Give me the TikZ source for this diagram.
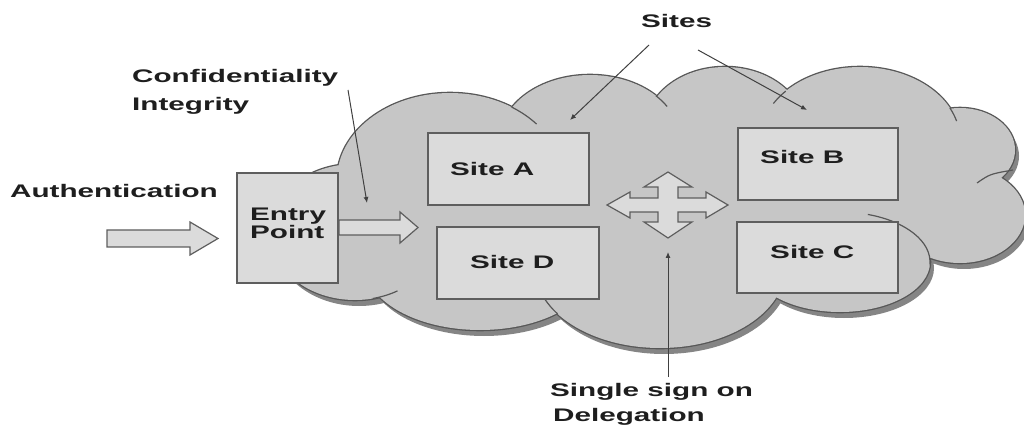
\documentclass[tikz,border=0pt]{standalone}
\usepackage{fontspec}
\newfontfamily\lblfont{Liberation Sans}[FakeStretch=1.63]
\usetikzlibrary{arrows.meta}

\definecolor{cloudfill}{HTML}{C6C6C6}
\definecolor{cloudline}{HTML}{575757}
\definecolor{cloudshade}{HTML}{858585}
\definecolor{boxfill}{HTML}{DBDBDB}
\definecolor{boxline}{HTML}{5E5E5E}
\definecolor{inkdark}{HTML}{1E1E1E}

% lobes of the cloud (centre, x radius, y radius), y axis pointing down
\def\cloudlobes{
  (355,232) ellipse [x radius=85,  y radius=68]
  (450,180) ellipse [x radius=113, y radius=87]
  (590,140) ellipse [x radius=90,  y radius=65]
  (725,130) ellipse [x radius=80,  y radius=63]
  (860,140) ellipse [x radius=100, y radius=73]
  (960,150) ellipse [x radius=55,  y radius=42]
  (960,215) ellipse [x radius=65,  y radius=48]
  (840,262) ellipse [x radius=90,  y radius=50]
  (660,268) ellipse [x radius=125, y radius=80]
  (480,265) ellipse [x radius=115, y radius=65]
}

\begin{document}
\begin{tikzpicture}[x=1pt,y=-1pt,
  lbl/.style={font=\lblfont\bfseries\fontsize{18.2}{20}\selectfont,
              text=inkdark, inner sep=0pt, anchor=base west},
  sitebox/.style={draw=boxline, fill=boxfill, line width=1.4pt, inner sep=0pt},
  fatarrow/.style={draw=boxline, fill=boxfill, line width=1.2pt, line join=miter},
  pointer/.style={draw=inkdark!85, line width=1pt,
                  -{Latex[length=6pt,width=5pt]}},
  crease/.style={draw=cloudline, line width=1.2pt},
]
\useasboundingbox (0,0) rectangle (1024,427);

% cloud: drop shadow, outline, body
\path[fill=cloudshade, shift={(4,6)}] \cloudlobes;
\path[draw=cloudline, line width=2.6pt] \cloudlobes;
\path[fill=cloudfill] \cloudlobes (650,205) ellipse [x radius=320, y radius=100];

% creases where lobes overlap
\draw[crease] (450,180) ++(-57:113 and 87) arc[start angle=-57, end angle=-40, x radius=113, y radius=87];
\draw[crease] (590,140) ++(-43:90 and 65) arc[start angle=-43, end angle=-31, x radius=90, y radius=65];
\draw[crease] (860,140) ++(-138:100 and 73) arc[start angle=-138, end angle=-150, x radius=100, y radius=73];
\draw[crease] (860,140) ++(-26:100 and 73) arc[start angle=-26, end angle=-15, x radius=100, y radius=73];
\draw[crease] (977,183) .. controls (990,174) .. (1013,170);
\draw[crease] (840,262) ++(-72:90 and 50) arc[start angle=-72, end angle=3, x radius=90, y radius=50];
\draw[crease] (660,268) ++(160:125 and 80) arc[start angle=160, end angle=145, x radius=125, y radius=80];
\draw[crease] (355,232) ++(78:85 and 68) arc[start angle=78, end angle=60, x radius=85, y radius=68];

% sites
\node[sitebox, minimum width=161, minimum height=72] (siteA) at (508.5,169) {};
\node[sitebox, minimum width=160, minimum height=72] (siteB) at (818,164) {};
\node[sitebox, minimum width=161, minimum height=71] (siteC) at (817.5,257.5) {};
\node[sitebox, minimum width=162, minimum height=72] (siteD) at (518,263) {};
\node[sitebox, minimum width=101, minimum height=110] (entry) at (287.5,228) {};

\node[lbl] (siteAtxt) at (450,176) {Site A};
\node[lbl] (siteBtxt) at (760,164) {Site B};
\node[lbl] (siteCtxt) at (770,259) {Site C};
\node[lbl] (siteDtxt) at (470,269) {Site D};
\node[lbl] (entrytxt) at (250,221) {Entry};
\node[lbl] (pointtxt) at (250,239) {Point};

% block arrows
\draw[fatarrow] (107,230) -- (190,230) -- (190,222) -- (218,238.5)
  -- (190,255) -- (190,247) -- (107,247) -- cycle;
\draw[fatarrow] (339,220) -- (400,220) -- (400,212) -- (418,227.5)
  -- (400,243) -- (400,235) -- (339,235) -- cycle;
\draw[fatarrow] (668,172) -- (692,187) -- (678,187) -- (678,198) -- (706,198)
  -- (706,192) -- (728,205) -- (706,218) -- (706,212) -- (678,212) -- (678,222)
  -- (692,222) -- (668,238) -- (644,222) -- (658,222) -- (658,212) -- (630,212)
  -- (630,218) -- (607,205) -- (630,192) -- (630,198) -- (658,198) -- (658,187)
  -- (644,187) -- cycle;

% labels outside the cloud
\node[lbl] (auth)  at (10,198)  {Authentication};
\node[lbl] (conf)  at (132,83)  {Confidentiality};
\node[lbl] (integ) at (132,111) {Integrity};
\node[lbl] (sites) at (641,28)  {Sites};
\node[lbl] (sso)   at (550,396) {Single sign on};
\node[lbl] (deleg) at (553,421) {Delegation};

% pointers
\coordinate (confTail) at (348,90);
\coordinate (confTip)  at (367,203);
\coordinate (sitesTailA) at (649,45);
\coordinate (sitesTipA)  at (570,120);
\coordinate (sitesTailB) at (698,50);
\coordinate (sitesTipB)  at (807,110);
\coordinate (ssoTail) at (668,377);
\coordinate (ssoTip)  at (668,252);

\draw[pointer] (confTail) -- (confTip);
\draw[pointer] (sitesTailA) -- (sitesTipA);
\draw[pointer] (sitesTailB) -- (sitesTipB);
\draw[pointer] (ssoTail) -- (ssoTip);
\end{tikzpicture}
\end{document}
